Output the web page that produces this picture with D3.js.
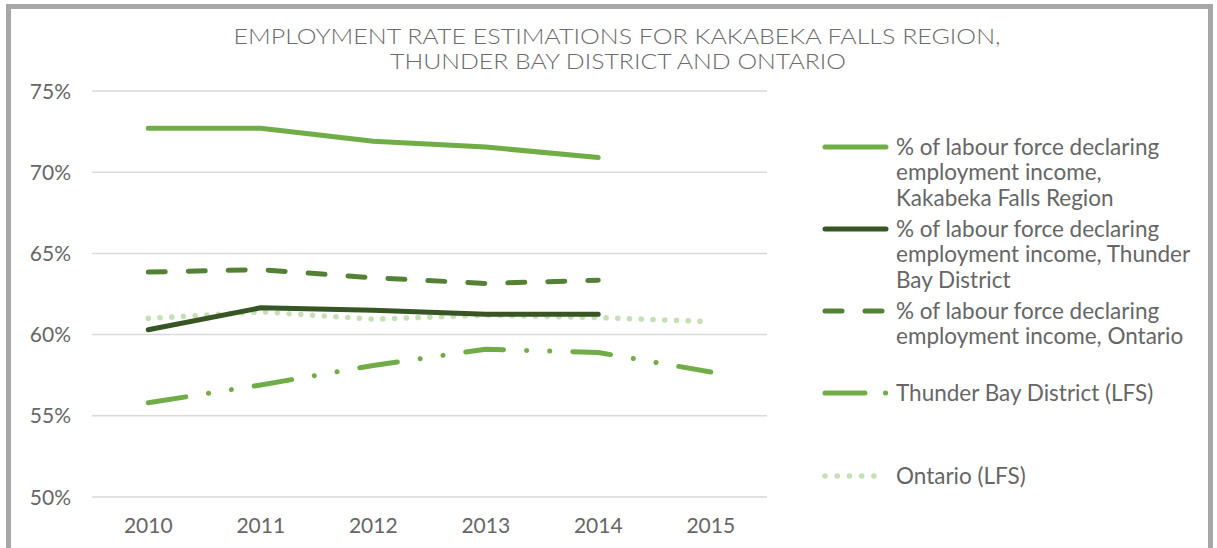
<!DOCTYPE html>
<html>
<head>
<meta charset="utf-8">
<script src="https://cdn.jsdelivr.net/npm/d3@7"></script>
<style>
  body { margin: 0; background: #fff; }
  svg { display: block; }
  text { font-family: Lato, "Open Sans", sans-serif; fill: #666; }
</style>
</head>
<body>
<svg></svg>
<script>
var years = ["2010", "2011", "2012", "2013", "2014", "2015"];
var yTicks = [50, 55, 60, 65, 70, 75];

var kakabeka = [72.7, 72.7, 71.9, 71.55, 70.9, null];
var thunderBay = [60.3, 61.65, 61.5, 61.25, 61.25, null];
var ontario = [63.85, 64.0, 63.5, 63.15, 63.35, null];
var thunderBayLFS = [55.8, 56.9, 58.1, 59.1, 58.9, 57.7];
var ontarioLFS = [61.0, 61.4, 60.95, 61.2, 61.05, 60.8];

var seriesNames = [
  ["% of labour force declaring", "employment income,", "Kakabeka Falls Region"],
  ["% of labour force declaring", "employment income, Thunder", "Bay District"],
  ["% of labour force declaring", "employment income, Ontario"],
  ["Thunder Bay District (LFS)"],
  ["Ontario (LFS)"]
];

var width = 1217;
var height = 548;

var svg = d3.select("svg")
            .attr("width", width)
            .attr("height", height);

// frame
svg.append("path")
   .attr("d", "M8.5,548 V6.5 H1210.5 V548")
   .attr("fill", "none")
   .attr("stroke", "#a5a8a7")
   .attr("stroke-width", 5);

// title
var title = svg.append("text")
   .attr("text-anchor", "middle")
   .attr("font-size", 21)
   .style("font-weight", 300)
   .style("fill", "#6b6b6b");
title.append("tspan").attr("x", 617).attr("y", 44)
     .attr("textLength", 767).attr("lengthAdjust", "spacingAndGlyphs")
     .text("EMPLOYMENT RATE ESTIMATIONS FOR KAKABEKA FALLS REGION,");
title.append("tspan").attr("x", 618).attr("y", 69)
     .attr("textLength", 456).attr("lengthAdjust", "spacingAndGlyphs")
     .text("THUNDER BAY DISTRICT AND ONTARIO");

var xScale = d3.scaleBand()
               .domain(years)
               .range([92, 767]);

var yScale = d3.scaleLinear()
               .domain([50, 75])
               .range([497, 91]);

// gridlines
svg.selectAll(".grid")
   .data(yTicks)
   .enter()
   .append("line")
   .attr("x1", 92)
   .attr("x2", 767)
   .attr("y1", function(d){ return yScale(d); })
   .attr("y2", function(d){ return yScale(d); })
   .attr("stroke", "#d9d9d9")
   .attr("stroke-width", 1.5);

svg.selectAll(".ylab")
   .data(yTicks)
   .enter()
   .append("text")
   .attr("x", 71)
   .attr("y", function(d){ return yScale(d) + 7.5; })
   .attr("text-anchor", "end")
   .attr("font-size", 21)
   .text(function(d){ return d + "%"; });

svg.selectAll(".xlab")
   .data(years)
   .enter()
   .append("text")
   .attr("x", function(d){ return xScale(d) + xScale.bandwidth() / 2; })
   .attr("y", 533)
   .attr("text-anchor", "middle")
   .attr("font-size", 21)
   .text(function(d){ return d; });

var series = [
  { values: thunderBayLFS, color: "#70ad47", dash: "38,23,0.1,23,0.1,23", w: 5 },
  { values: ontarioLFS, color: "#c5e0b4", dash: "0.1,11.65", w: 5.5 },
  { values: ontario, color: "#548235", dash: "17,23", w: 5 },
  { values: thunderBay, color: "#375623", dash: null, w: 5 },
  { values: kakabeka, color: "#70ad47", dash: null, w: 5 }
];

var line = d3.line()
             .defined(function(d){ return d.v != null; })
             .x(function(d){ return xScale(d.year) + xScale.bandwidth() / 2; })
             .y(function(d){ return yScale(d.v); });

series.forEach(function(s){
  var pts = years.map(function(y, i){ return { year: y, v: s.values[i] }; });
  svg.append("path")
     .attr("d", line(pts))
     .attr("fill", "none")
     .attr("stroke", s.color)
     .attr("stroke-width", s.w)
     .attr("stroke-linecap", "round")
     .attr("stroke-linejoin", "round")
     .attr("stroke-dasharray", s.dash);
});

// legend
var legendItems = [
  { y: 147, color: "#70ad47", dash: null, lines: seriesNames[0] },
  { y: 229, color: "#375623", dash: null, lines: seriesNames[1] },
  { y: 311, color: "#548235", dash: "17,23", lines: seriesNames[2] },
  { y: 393, color: "#70ad47", dash: "40,20.5,0.1,100", lines: seriesNames[3] },
  { y: 476, color: "#c5e0b4", dash: "0.1,12.1", lines: seriesNames[4] }
];

legendItems.forEach(function(it){
  svg.append("line")
     .attr("x1", 825)
     .attr("x2", 886)
     .attr("y1", it.y)
     .attr("y2", it.y)
     .attr("stroke", it.color)
     .attr("stroke-width", it.dash == "0.1,12.1" ? 5.5 : 5)
     .attr("stroke-linecap", "round")
     .attr("stroke-dasharray", it.dash);
  var t = svg.append("text").attr("font-size", 22.5);
  it.lines.forEach(function(l, i){
    t.append("tspan")
     .attr("x", 896)
     .attr("y", it.y + 7.5 + i * 25.5)
     .text(l);
  });
});
</script>
</body>
</html>
